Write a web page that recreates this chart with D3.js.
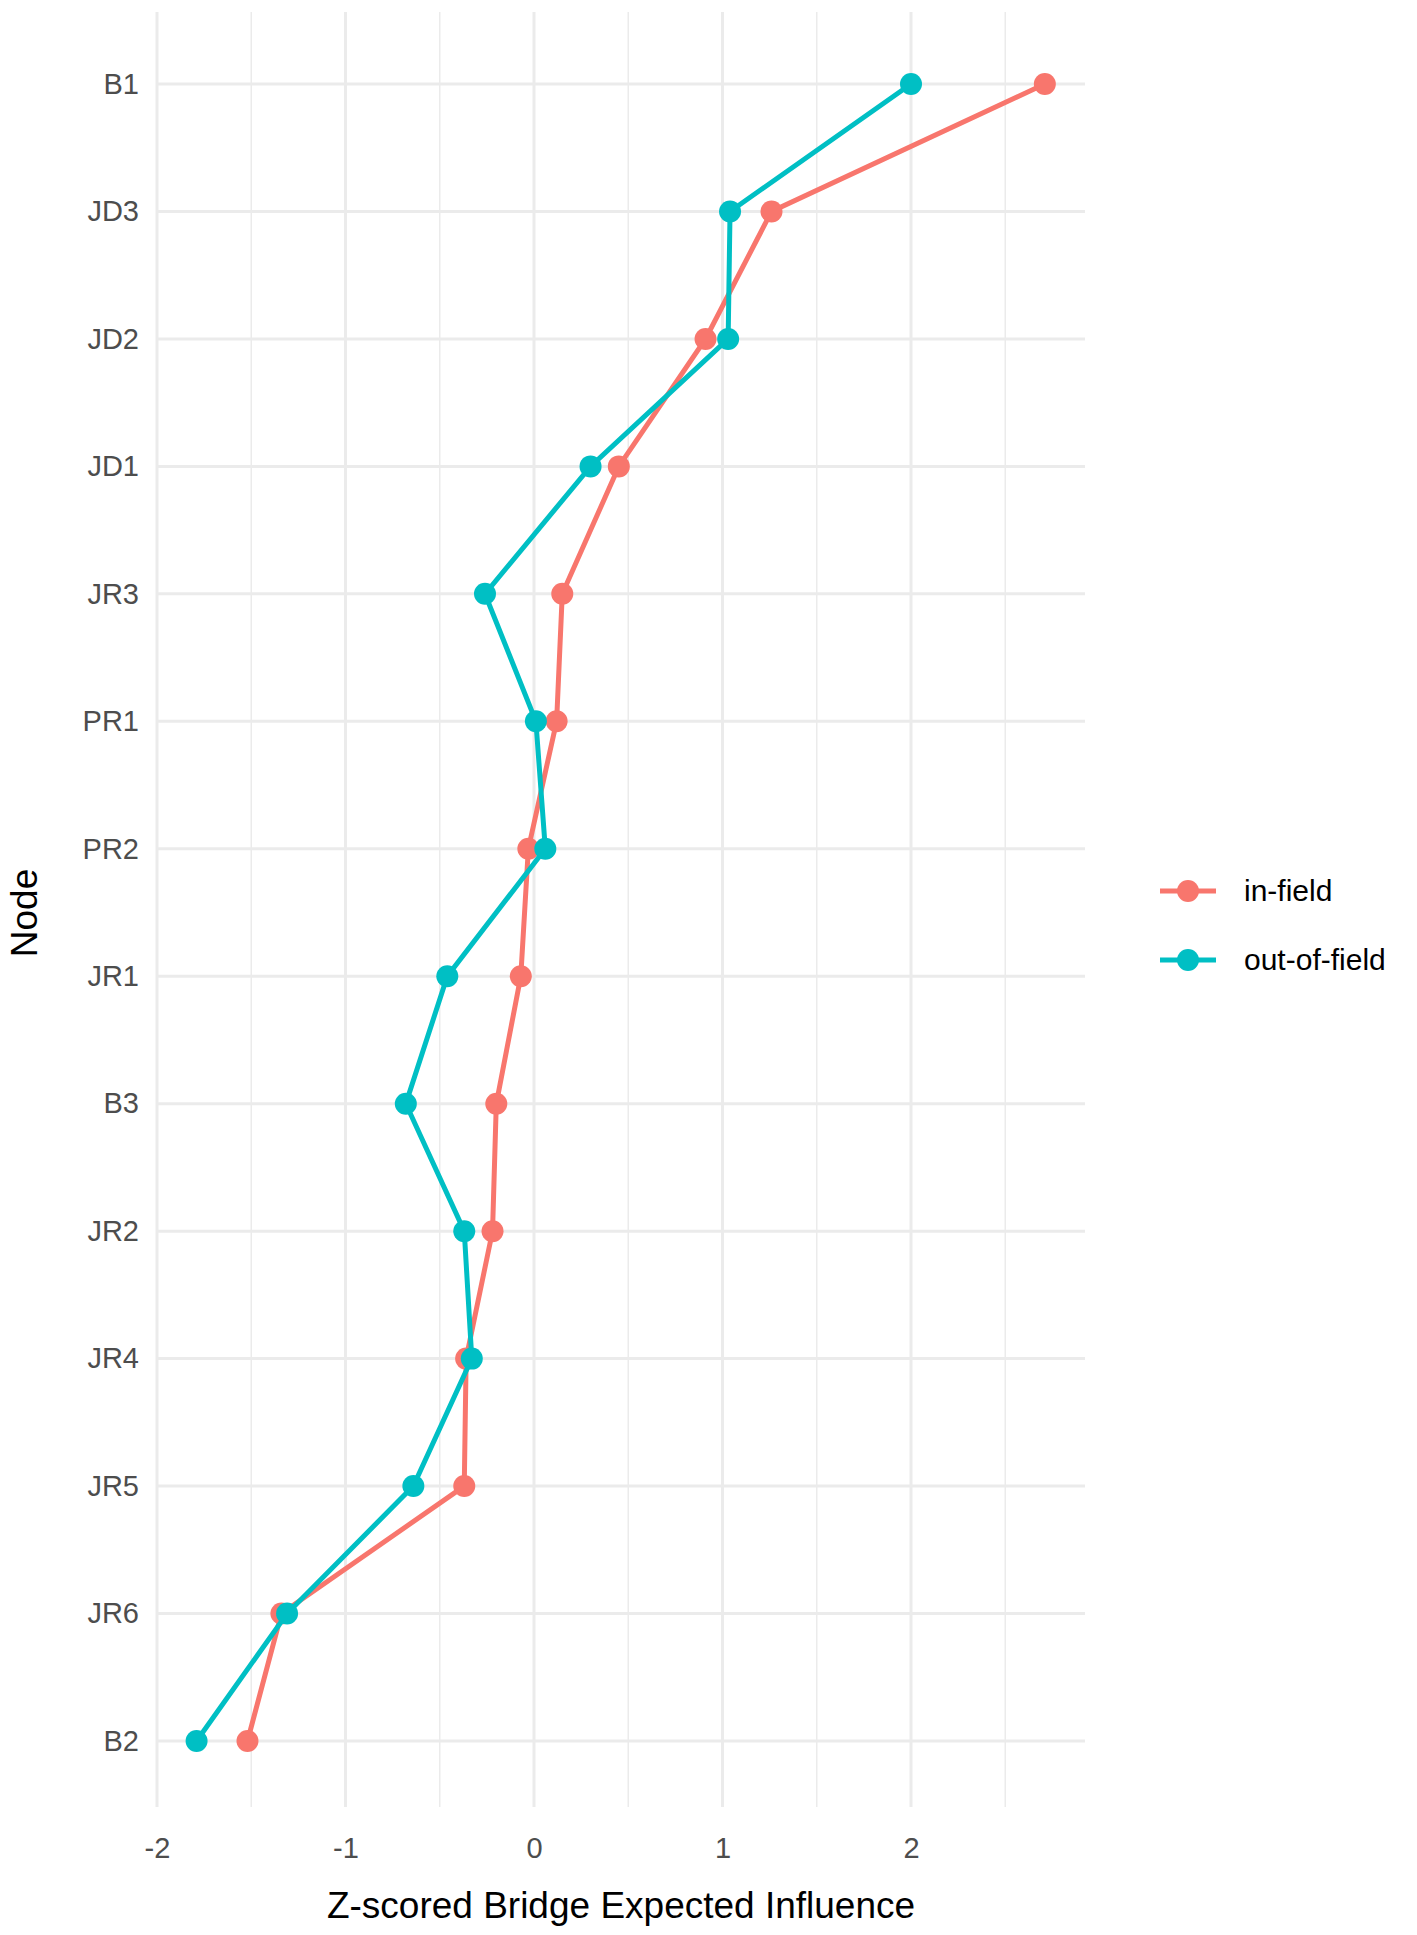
<!DOCTYPE html><html><head><meta charset="utf-8">
<script src="https://cdn.jsdelivr.net/npm/d3@7"></script>
<style>body{margin:0;background:#fff}text{font-family:Arial,"Liberation Sans",sans-serif}</style></head><body>
<svg id="c" width="1417" height="1935"></svg>
<script>
const nodes=["B1","JD3","JD2","JD1","JR3","PR1","PR2","JR1","B3","JR2","JR4","JR5","JR6","B2"];
const inField=[2.71,1.26,0.91,0.45,0.15,0.12,-0.03,-0.07,-0.2,-0.22,-0.36,-0.37,-1.34,-1.52];
const outField=[2.0,1.04,1.03,0.30,-0.26,0.01,0.06,-0.46,-0.68,-0.37,-0.33,-0.64,-1.31,-1.79];
const xTicks=[-2,-1,0,1,2];
const xMinor=[-1.5,-0.5,0.5,1.5,2.5];
const seriesNames=["in-field","out-of-field"];
const colors=["#F8766D","#00BFC4"];

const svg=d3.select("#c");
const L=157,R=1085,T=12,B=1807;
const x=d3.scaleLinear().domain([-2,2]).range([157,911]);
const y=d3.scalePoint().domain(nodes).range([84,1741]);
const g=svg.append("g");
xMinor.forEach(v=>g.append("line").attr("x1",x(v)).attr("x2",x(v)).attr("y1",T).attr("y2",B).attr("stroke","#ebebeb").attr("stroke-width",1.5));
xTicks.forEach(v=>g.append("line").attr("x1",x(v)).attr("x2",x(v)).attr("y1",T).attr("y2",B).attr("stroke","#ebebeb").attr("stroke-width",3));
nodes.forEach(n=>g.append("line").attr("x1",L).attr("x2",R).attr("y1",y(n)).attr("y2",y(n)).attr("stroke","#ebebeb").attr("stroke-width",3));
const ax=svg.append("g").attr("transform",`translate(0,${B})`).call(d3.axisBottom(x).tickValues(xTicks).tickFormat(d=>String(d)).tickSize(0).tickPadding(30));
ax.select(".domain").remove();
ax.selectAll("text").attr("font-size",29).attr("fill","#4d4d4d").style("font-family","Arial");
const ay=svg.append("g").attr("transform",`translate(${L},0)`).call(d3.axisLeft(y).tickSize(0).tickPadding(18));
ay.select(".domain").remove();
ay.selectAll("text").attr("font-size",29).attr("fill","#4d4d4d").style("font-family","Arial");
[inField,outField].forEach((vals,i)=>{
  const data=nodes.map((n,j)=>({n,v:vals[j]}));
  svg.append("path").datum(data).attr("fill","none").attr("stroke",colors[i]).attr("stroke-width",5)
    .attr("d",d3.line().x(d=>x(d.v)).y(d=>y(d.n)));
  svg.selectAll(null).data(data).enter().append("circle").attr("cx",d=>x(d.v)).attr("cy",d=>y(d.n)).attr("r",11).attr("fill",colors[i]);
});
svg.append("text").attr("x",(L+R)/2).attr("y",1918).attr("text-anchor","middle").attr("font-size",37).text("Z-scored Bridge Expected Influence");
svg.append("text").attr("transform","translate(37,913) rotate(-90)").attr("text-anchor","middle").attr("font-size",37).text("Node");
seriesNames.forEach((s,i)=>{
  const yy=891+i*69;
  svg.append("line").attr("x1",1160).attr("x2",1216).attr("y1",yy).attr("y2",yy).attr("stroke",colors[i]).attr("stroke-width",5);
  svg.append("circle").attr("cx",1188).attr("cy",yy).attr("r",11).attr("fill",colors[i]);
  svg.append("text").attr("x",1244).attr("y",yy+10).attr("font-size",30).text(s);
});
</script></body></html>
